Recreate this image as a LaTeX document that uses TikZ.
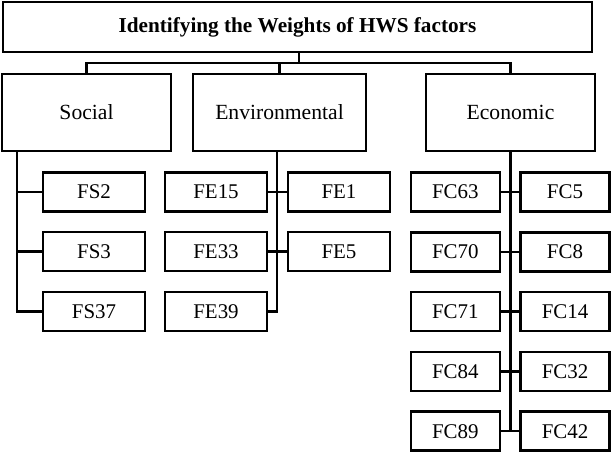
\documentclass[tikz,border=0pt]{standalone}
\usepackage{fontspec}
\setmainfont{Liberation Serif}
\usetikzlibrary{calc}

\begin{document}
\begin{tikzpicture}[
    x=1bp, y=-1bp,
    line width=2.6pt,
    head/.style={
        draw=black, fill=white,
        minimum width=589bp, minimum height=50bp, inner sep=0pt,
        font=\fontsize{21.3}{24}\selectfont\bfseries, text=black
    },
    group/.style={
        draw=black, fill=white,
        minimum width=169bp, minimum height=77bp, inner sep=0pt,
        font=\fontsize{21.7}{24}\selectfont, text=black
    },
    factor/.style={
        draw=black, fill=white,
        minimum width=102bp, minimum height=39bp, inner sep=0pt,
        font=\fontsize{21}{24}\selectfont, text=black
    },
    cfactor/.style={factor, minimum width=89bp},
    link/.style={draw=black, line width=2.6pt}
]
\useasboundingbox (0,0) rectangle (612,452);

\node[head] (top) at (297.5,27) {Identifying the Weights of HWS factors};

\node[group] (social) at (86.5,112.5) {Social};
\node[group, minimum width=173bp] (env) at (279.5,112.5) {Environmental};
\node[group] (econ) at (510.5,112.5) {Economic};

\coordinate (bus) at (299,63);
\draw[link] (top.south -| bus) -- (bus);
\draw[link] (social.north) |- (bus) -| (econ.north);
\draw[link] (env.north) -- (env.north |- bus);

% social factors
\node[factor] (fs2)  at (94,192)   {FS2};
\node[factor] (fs3)  at (94,251.5) {FS3};
\node[factor] (fs37) at (94,311.5) {FS37};

\coordinate (strunk) at (17,151);
\draw[link] (strunk) |- (fs37.west);
\draw[link] (fs2.west) -- (fs2.west -| strunk);
\draw[link] (fs3.west) -- (fs3.west -| strunk);

% environmental factors
\node[factor] (fe15) at (216,192)   {FE15};
\node[factor] (fe33) at (216,251.5) {FE33};
\node[factor] (fe39) at (216,311.5) {FE39};
\node[factor] (fe1)  at (339,192)   {FE1};
\node[factor] (fe5)  at (339,251.5) {FE5};

\coordinate (etrunk) at (277,151);
\draw[link] (etrunk) |- (fe39.east);
\draw[link] (fe15.east) -- (fe1.west);
\draw[link] (fe33.east) -- (fe5.west);

% economic factors
\foreach \l/\r [count=\i from 0] in {63/5, 70/8, 71/14, 84/32, 89/42} {
    \node[cfactor] (fc\l) at (455.3,192+59.8*\i) {FC\l};
    \node[cfactor] (fc\r) at (565,192+59.8*\i) {FC\r};
    \draw[link] (fc\l.east) -- (fc\r.west);
}
\draw[link] (econ.south) -- (econ.south |- fc89.east);
\end{tikzpicture}
\end{document}
